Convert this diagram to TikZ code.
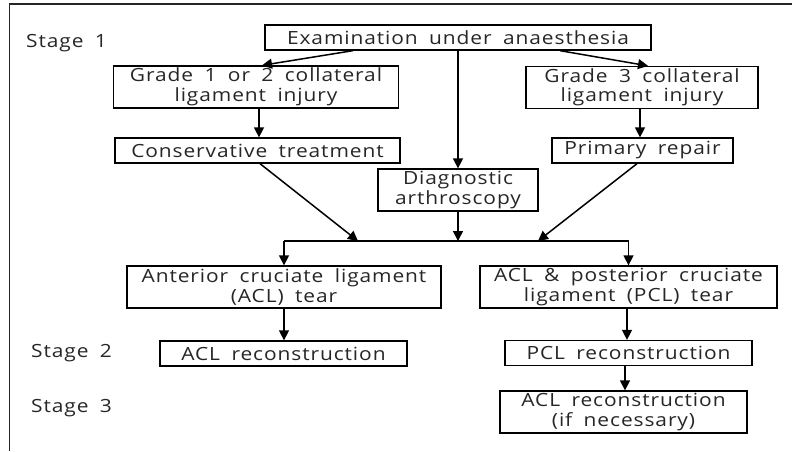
\documentclass[tikz,border=0pt]{standalone}
\usepackage{fontspec}
\setmainfont{Open Sans}[FakeStretch=1.15,LetterSpace=5,WordSpace=1.8]
\usetikzlibrary{arrows.meta}
\begin{document}
\begin{tikzpicture}[x=1pt,y=-1pt,
  box/.style={draw=black,line width=1.3pt,inner sep=0pt,align=center,
    font=\fontsize{18.2}{19.5}\selectfont,text=black!85},
  onebox/.style={box,minimum height=25pt},
  twobox/.style={box,minimum height=42pt},
  arr/.style={line width=1.5pt,-{Triangle[width=10pt,length=10pt]}},
  link/.style={line width=1.5pt},
  stagelbl/.style={anchor=west,inner sep=0pt,font=\fontsize{18.2}{19.5}\selectfont,text=black!85}]
\useasboundingbox (0,0) rectangle (792,451);
% partial frame: top and left rules
\draw[line width=1.8pt,black!85] (9.5,451) -- (9.5,4) -- (792,4);

% stage labels
\node[stagelbl] (s1) at (26,43) {Stage 1};
\node[stagelbl] (s2) at (31,353) {Stage 2};
\node[stagelbl] (s3) at (31,408) {Stage 3};

% stage 1 boxes
\node[onebox,minimum width=386pt] (exam) at (458,37.5) {Examination under anaesthesia};
\node[twobox,minimum width=285pt] (g12) at (256,87) {Grade 1 or 2 collateral\\ligament injury};
\node[twobox,minimum width=232pt] (g3) at (642,87.5) {Grade 3 collateral\\ligament injury};
\node[onebox,minimum width=285pt] (cons) at (257.5,150.5) {Conservative treatment};
\node[onebox,minimum width=181pt] (prim) at (642.5,150.5) {Primary repair};
\node[twobox,minimum width=160pt] (diag) at (458,190) {Diagnostic\\arthroscopy};

% injury pattern
\node[twobox,minimum width=314pt] (acl) at (284,287) {Anterior cruciate ligament\\(ACL) tear};
\node[twobox,minimum width=297pt] (aclpcl) at (628.5,287) {ACL \& posterior cruciate\\ligament (PCL) tear};

% stages 2 and 3
\node[onebox,minimum width=247pt] (aclrec) at (283.5,353.5) {ACL reconstruction};
\node[onebox,minimum width=247pt] (pclrec) at (628.5,353) {PCL reconstruction};
\node[twobox,minimum width=247pt] (aclif) at (623.5,412) {ACL reconstruction\\(if necessary)};

% merge line
\coordinate (split) at (458,241);
\coordinate (mergeL) at (358,241);
\coordinate (mergeR) at (538,241);

% connectors
\draw[arr] ([xshift=-105pt]exam.south) -- ([xshift=6pt]g12.north);
\draw[arr] ([xshift=102pt]exam.south) -- ([xshift=6pt]g3.north);
\draw[arr] (exam.south) -- (diag.north);
\draw[arr] ([xshift=3pt]g12.south) -- ([xshift=3pt]g12.south |- cons.north);
\draw[arr] ([xshift=-2pt]g3.south) -- ([xshift=-2pt]g3.south |- prim.north);
\draw[arr] ([xshift=2.5pt]cons.south) -- (mergeL);
\draw[arr] ([xshift=-5.5pt]prim.south) -- (mergeR);
\draw[arr] (diag.south) -- (split);
\draw[link] (acl.north |- split) -- (aclpcl.north |- split);
\draw[arr] (acl.north |- split) -- (acl.north);
\draw[arr] (aclpcl.north |- split) -- (aclpcl.north);
\draw[arr] (acl.south) -- (acl.south |- aclrec.north);
\draw[arr] ([xshift=-1.5pt]aclpcl.south) -- ([xshift=-1.5pt]aclpcl.south |- pclrec.north);
\draw[arr] ([xshift=-3.5pt]pclrec.south) -- ([xshift=-3.5pt]pclrec.south |- aclif.north);
\end{tikzpicture}
\end{document}
